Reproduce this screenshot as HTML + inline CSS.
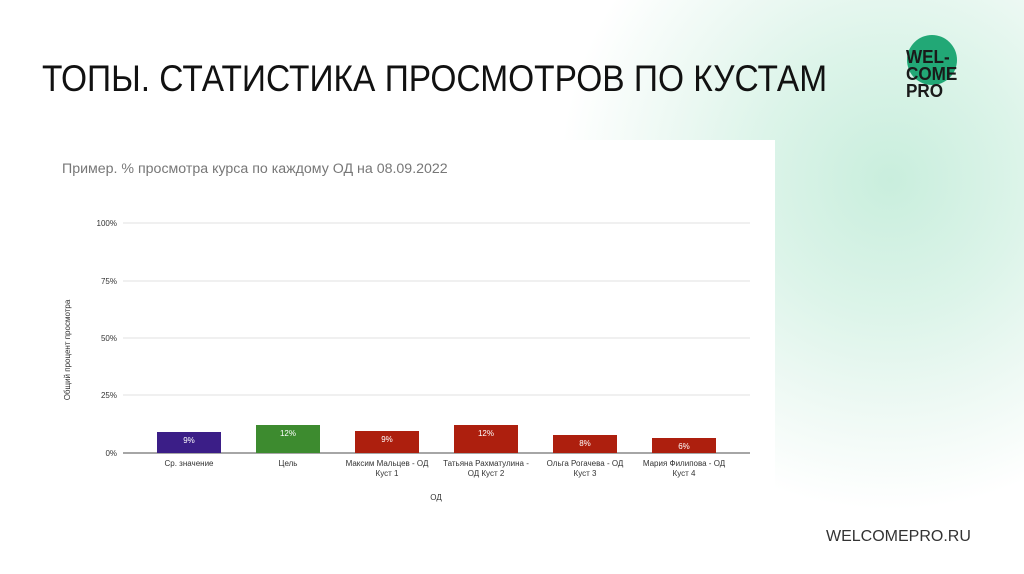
<!DOCTYPE html>
<html><head><meta charset="utf-8"><style>
body{margin:0;width:1024px;height:574px;overflow:hidden;position:relative;font-family:"Liberation Sans","Noto Sans CJK SC",sans-serif;
background:radial-gradient(ellipse 330px 330px at 890px 180px,#c9eedd 0%,#dcf4e9 40%,#eef9f4 70%,#fff 100%);}
.t{position:absolute;left:42px;top:58px;font-size:37px;color:#111;transform:scaleX(0.905);transform-origin:left top;white-space:nowrap}
.panel{position:absolute;left:40px;top:140px;width:735px;height:385px;background:#fff}
.u{position:absolute;left:826px;top:528px;font-size:16px;color:#333}
.logo{position:absolute;left:907px;top:35px;width:50px;height:50px;border-radius:50%;background:#22a876}
.lt{position:absolute;left:906px;top:49px;font-size:18px;line-height:17px;color:#1a1a1a;font-weight:bold;transform:scaleX(0.95);transform-origin:left top}
</style></head><body>
<div class="t">ТОПЫ. СТАТИСТИКА ПРОСМОТРОВ ПО КУСТАМ</div>
<div class="logo"></div>
<div class="lt">WEL-<br>COME<br>PRO</div>
<div class="panel"></div>
<svg width="1024" height="574" style="position:absolute;left:0;top:0" font-family="Liberation Sans, sans-serif">
<text x="62" y="173" font-size="14.2" fill="#777">Пример. % просмотра курса по каждому ОД на 08.09.2022</text>
<g stroke="#e2e2e2" stroke-width="1">
<line x1="123" x2="750" y1="223" y2="223"/><line x1="123" x2="750" y1="281" y2="281"/>
<line x1="123" x2="750" y1="338" y2="338"/><line x1="123" x2="750" y1="395" y2="395"/>
</g>
<line x1="123" x2="750" y1="453" y2="453" stroke="#888" stroke-width="1.5"/>
<g font-size="8" fill="#333" text-anchor="end">
<text x="117" y="226">100%</text><text x="117" y="284">75%</text><text x="117" y="341">50%</text><text x="117" y="398">25%</text><text x="117" y="456">0%</text>
</g>
<text transform="translate(70,350) rotate(-90)" font-size="8" fill="#333" text-anchor="middle">Общий процент просмотра</text>
<rect x="157" y="432" width="64" height="21" fill="#3b1e87"/>
<rect x="256" y="425" width="64" height="28" fill="#3d8b2f"/>
<rect x="355" y="431" width="64" height="22" fill="#ad1f0e"/>
<rect x="454" y="425" width="64" height="28" fill="#ad1f0e"/>
<rect x="553" y="435" width="64" height="18" fill="#ad1f0e"/>
<rect x="652" y="438" width="64" height="15" fill="#ad1f0e"/>
<g font-size="8" fill="#fff" text-anchor="middle">
<text x="189" y="443">9%</text><text x="288" y="436">12%</text><text x="387" y="442">9%</text>
<text x="486" y="436">12%</text><text x="585" y="446">8%</text><text x="684" y="449">6%</text>
</g>
<g font-size="8" fill="#333" text-anchor="middle">
<text x="189" y="466">Ср. значение</text><text x="288" y="466">Цель</text>
<text x="387" y="466">Максим Мальцев - ОД</text><text x="387" y="476">Куст 1</text>
<text x="486" y="466">Татьяна Рахматулина -</text><text x="486" y="476">ОД Куст 2</text>
<text x="585" y="466">Ольга Рогачева - ОД</text><text x="585" y="476">Куст 3</text>
<text x="684" y="466">Мария Филипова - ОД</text><text x="684" y="476">Куст 4</text>
<text x="436" y="500">ОД</text>
</g>
</svg>
<div class="u">WELCOMEPRO.RU</div>
</body></html>
